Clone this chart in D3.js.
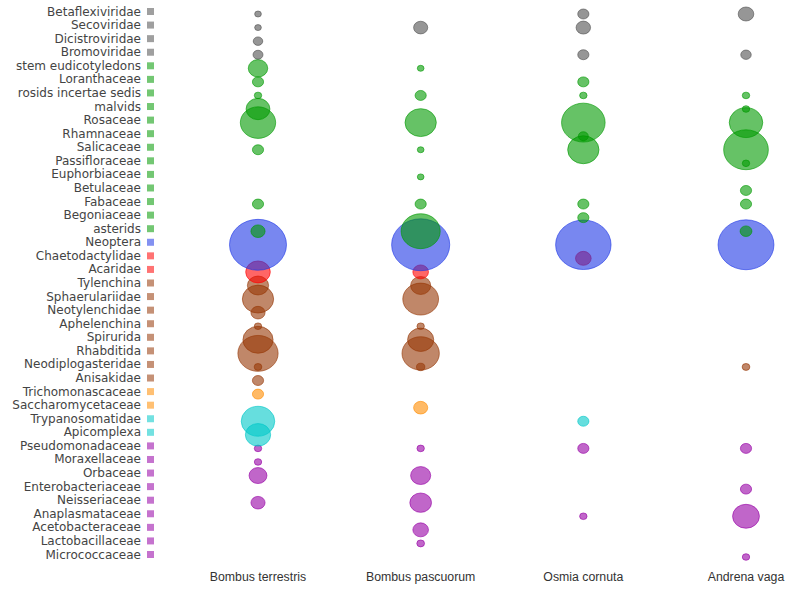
<!DOCTYPE html>
<html><head><meta charset="utf-8">
<script src="https://cdn.jsdelivr.net/npm/d3@7"></script>
<style>body{margin:0;background:#fff}svg{display:block}</style>
</head><body>
<svg id="chart" width="797" height="589"></svg>
<script>
const categories = ["Betaflexiviridae","Secoviridae","Dicistroviridae","Bromoviridae","stem eudicotyledons","Loranthaceae","rosids incertae sedis","malvids","Rosaceae","Rhamnaceae","Salicaceae","Passifloraceae","Euphorbiaceae","Betulaceae","Fabaceae","Begoniaceae","asterids","Neoptera","Chaetodactylidae","Acaridae","Tylenchina","Sphaerulariidae","Neotylenchidae","Aphelenchina","Spirurida","Rhabditida","Neodiplogasteridae","Anisakidae","Trichomonascaceae","Saccharomycetaceae","Trypanosomatidae","Apicomplexa","Pseudomonadaceae","Moraxellaceae","Orbaceae","Enterobacteriaceae","Neisseriaceae","Anaplasmataceae","Acetobacteraceae","Lactobacillaceae","Micrococcaceae"];
const groups = ["virus","virus","virus","virus","plant","plant","plant","plant","plant","plant","plant","plant","plant","plant","plant","plant","plant","insect","mite","mite","nematode","nematode","nematode","nematode","nematode","nematode","nematode","nematode","yeast","yeast","protist","protist","bacteria","bacteria","bacteria","bacteria","bacteria","bacteria","bacteria","bacteria","bacteria"];
const groupNames = ["virus","plant","insect","mite","nematode","yeast","protist","bacteria"];
const groupColors = ["rgb(80,80,80)","rgb(0,153,0)","rgb(30,55,230)","rgb(255,0,0)","rgb(150,55,5)","rgb(255,140,0)","rgb(0,200,200)","rgb(150,0,165)"];
const species = ["Bombus terrestris","Bombus pascuorum","Osmia cornuta","Andrena vaga"];
//                     0   1   2   3   4   5   6    7    8   9   10 11 12 13 14 15  16   17  18   19  20   21  22  23   24   25  26  27  28  29   30   31  32  33  34 35  36   37  38  39  40
const bombusTerrestris = [9,  9, 18, 20, 76, 25, 11, 114, 250, 0, 25, 0, 0, 0, 25, 0, 40, 650,  0, 121, 90, 196, 40, 11, 182, 324, 12, 25, 25,  0, 225, 128, 11, 11, 64, 0, 40,   0,  0,  0,  0];
const bombusPascuorum  = [0, 40,  0,  0,  9,  0, 25,   0, 196, 0,  9, 0, 9, 0, 25, 0,306, 676,  0,  49, 81, 256,  0, 11, 137, 279, 14,  0,  0, 40,   0,   0, 11,  0, 81, 0, 94,   0, 49, 12,  0];
const osmiaCornuta     = [25,42,  0, 25,  0, 25, 11,   0, 380,20,196, 0, 0, 0, 25,25,  0, 615, 49,   0,  0,   0,  0,  0,   0,   0,  0,  0,  0,  0,  25,   0, 25,  0,  0, 0,  0,  11,  0,  0,  0];
const andrenaVaga      = [49, 0,  0, 22,  0,  0, 11,  11, 225, 0,400,11, 0,25, 25, 0, 28, 625,  0,   0,  0,   0,  0,  0,   0,   0, 12,  0,  0,  0,   0,   0, 25,  0,  0,25,  0, 144,  0,  0, 11];
const seriesValues = [bombusTerrestris, bombusPascuorum, osmiaCornuta, andrenaVaga];

const svg = d3.select("#chart");
const x = d3.scalePoint().domain(species).range([258, 746]);
const y = d3.scalePoint().domain(categories).range([14, 557]);
const r = d3.scaleSqrt().domain([0, 700]).range([0, 26.4]);
const color = d3.scaleOrdinal().domain(groupNames).range(groupColors);
const aspect = 1.12;

// row labels
const lab = svg.append("g");
categories.forEach((c, i) => {
  lab.append("text")
    .attr("x", 141).attr("y", y(c) - 2.5)
    .attr("text-anchor", "end").attr("dominant-baseline", "central")
    .attr("font-family", "DejaVu Sans, Verdana, sans-serif").attr("font-size", "12px")
    .attr("fill", "#444").text(c);
  lab.append("rect")
    .attr("x", 147).attr("y", y(c) - 2.5 - 3.5).attr("width", 7).attr("height", 7)
    .attr("fill", color(groups[i])).attr("fill-opacity", 0.55);
});

// bubbles (drawn from the last category up to the first)
const bub = svg.append("g");
species.forEach((s, si) => {
  for (let i = categories.length - 1; i >= 0; i--) {
    const v = seriesValues[si][i];
    if (!v) continue;
    const c = color(groups[i]);
    bub.append("ellipse")
      .attr("cx", x(s)).attr("cy", y(categories[i]))
      .attr("rx", r(v) * aspect).attr("ry", r(v))
      .attr("fill", c).attr("fill-opacity", 0.6)
      .attr("stroke", c).attr("stroke-opacity", 0.6).attr("stroke-width", 1);
  }
});

// column labels
species.forEach(s => {
  svg.append("text").attr("x", x(s)).attr("y", 581)
    .attr("text-anchor", "middle")
    .attr("font-family", "Liberation Sans, Arial, sans-serif").attr("font-size", "12.3px")
    .attr("fill", "#333").text(s);
});
</script>
</body></html>
